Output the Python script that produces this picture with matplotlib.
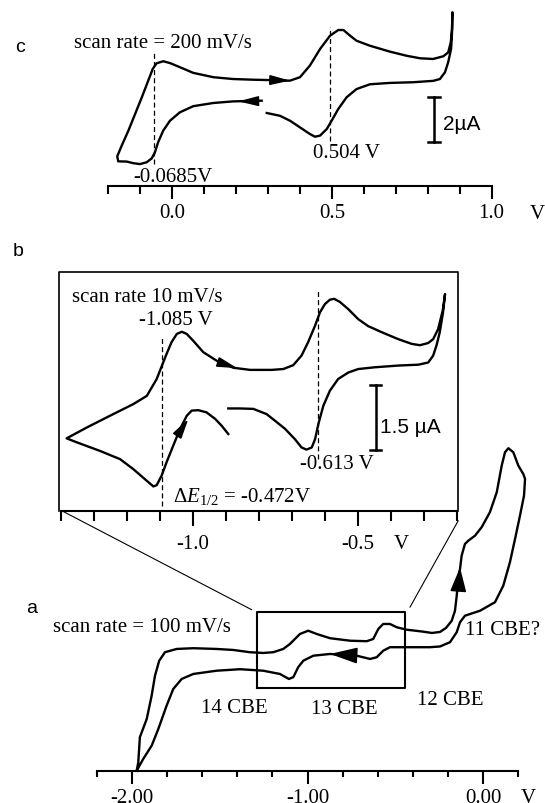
import matplotlib
matplotlib.use("Agg")
import matplotlib.pyplot as plt
from matplotlib.patches import ConnectionPatch

plt.rcParams['font.family'] = ['Liberation Serif', 'DejaVu Serif']
plt.rcParams['mathtext.fontset'] = 'custom'
plt.rcParams['mathtext.rm'] = 'Liberation Serif'
plt.rcParams['mathtext.it'] = 'Liberation Serif:italic'
plt.rcParams['axes.unicode_minus'] = False

SANS = ['Liberation Sans', 'DejaVu Sans']
FS = 15
LW = 1.7

# ---- panel c: scan rate 200 mV/s (potential V, current uA) ----
c_v = [0.280, 0.191, 0.129, 0.066, 0.024, -0.007, -0.028, -0.044, -0.054, -0.064,
       -0.080, -0.101, -0.122, -0.142, -0.169, -0.172, -0.158, -0.137, -0.116, -0.095,
       -0.075, -0.061, -0.049, -0.028, -0.007, 0.024, 0.066, 0.129, 0.191, 0.254,
       0.316, 0.358, 0.369, 0.400, 0.431, 0.463, 0.494, 0.520, 0.536, 0.557,
       0.577, 0.619, 0.682, 0.734, 0.776, 0.817, 0.849, 0.864, 0.872, 0.876,
       0.877, 0.876, 0.873, 0.864, 0.854, 0.838, 0.817, 0.755, 0.682, 0.619,
       0.577, 0.546, 0.520, 0.499, 0.484, 0.463, 0.447, 0.431, 0.400, 0.369,
       0.337, 0.296]
c_i = [3.74, 3.71, 3.64, 3.50, 3.23, 2.86, 2.43, 1.92, 1.48, 1.21,
       1.04, 0.96, 1.00, 1.07, 1.08, 1.30, 1.77, 2.43, 3.16, 3.89,
       4.62, 5.13, 5.38, 5.47, 5.39, 5.21, 4.96, 4.77, 4.69, 4.66,
       4.64, 4.62, 4.62, 4.77, 5.28, 6.01, 6.59, 6.84, 6.84, 6.59,
       6.37, 6.15, 5.89, 5.71, 5.60, 5.57, 5.69, 5.86, 6.30, 6.89,
       7.62, 6.74, 6.01, 5.43, 4.99, 4.69, 4.61, 4.55, 4.52, 4.46,
       4.25, 3.89, 3.38, 2.86, 2.50, 2.21, 2.16, 2.28, 2.57, 2.86,
       3.08, 3.20]
c_dash_v = [-0.057, 0.494]
c_dash_top = [5.93, 6.96]
c_dash_bot = [0.96, 1.99]

# ---- panel b: scan rate 10 mV/s ----
b_v = [-0.892, -0.857, -0.816, -0.776, -0.751, -0.720, -0.690, -0.670, -0.655, -0.639,
       -0.629, -0.619, -0.604, -0.584, -0.559, -0.528, -0.498, -0.448, -0.377, -0.316,
       -0.286, -0.271, -0.261, -0.251, -0.241, -0.235, -0.242, -0.256, -0.271, -0.286,
       -0.311, -0.336, -0.377, -0.427, -0.468, -0.498, -0.528, -0.554, -0.571, -0.584,
       -0.599, -0.614, -0.629, -0.650, -0.670, -0.695, -0.725, -0.761, -0.826, -0.877,
       -0.927, -0.968, -0.998, -1.018, -1.033, -1.048, -1.064, -1.079, -1.091, -1.109,
       -1.139, -1.180, -1.251, -1.321, -1.382, -1.352, -1.281, -1.220, -1.180, -1.139,
       -1.119, -1.109, -1.094, -1.079, -1.059, -1.038, -1.018, -1.003, -0.983, -0.958,
       -0.932, -0.912, -0.892]
b_i = [2.36, 2.36, 2.35, 2.23, 2.08, 1.89, 1.65, 1.46, 1.41, 1.46,
       1.65, 2.00, 2.42, 2.77, 3.04, 3.19, 3.27, 3.31, 3.35, 3.37,
       3.42, 3.58, 3.81, 4.12, 4.58, 5.00, 4.62, 4.19, 3.96, 3.87,
       3.82, 3.85, 3.96, 4.12, 4.26, 4.42, 4.65, 4.82, 4.89, 4.87,
       4.77, 4.58, 4.27, 3.89, 3.58, 3.36, 3.27, 3.25, 3.25, 3.30,
       3.46, 3.66, 3.92, 4.08, 4.13, 4.08, 3.89, 3.62, 3.39, 3.04,
       2.65, 2.46, 2.19, 1.92, 1.67, 1.58, 1.38, 1.19, 0.96, 0.69,
       0.56, 0.59, 0.81, 1.12, 1.50, 1.89, 2.19, 2.31, 2.32, 2.27,
       2.12, 1.96, 1.77]
b_dash_v = [-1.092, -0.619]
b_dash_top = [4.04, 5.08]
b_dash_bot = [0.12, 1.19]
b_box_v = [-1.404, -0.197]
b_box_i = [0.0, 5.52]

# ---- panel a: scan rate 100 mV/s ----
a_v = [-1.972, -1.963, -1.954, -1.915, -1.887, -1.868, -1.844, -1.811, -1.745, -1.650,
       -1.517, -1.423, -1.328, -1.252, -1.195, -1.138, -1.100, -1.043, -0.996, -0.948,
       -0.872, -0.758, -0.663, -0.626, -0.597, -0.569, -0.531, -0.493, -0.436, -0.350,
       -0.292, -0.246, -0.212, -0.180, -0.161, -0.151, -0.142, -0.132, -0.123, -0.104,
       -0.085, -0.047, -0.009, 0.038, 0.077, 0.105, 0.124, 0.143, 0.171, 0.200,
       0.228, 0.238, 0.232, 0.209, 0.181, 0.152, 0.114, 0.067, -0.018, -0.104,
       -0.132, -0.151, -0.189, -0.246, -0.303, -0.398, -0.436, -0.531, -0.569, -0.606,
       -0.644, -0.720, -0.872, -0.967, -1.024, -1.053, -1.081, -1.106, -1.157, -1.252,
       -1.384, -1.517, -1.650, -1.716, -1.764, -1.802, -1.849, -1.887, -1.935, -1.972]
a_i = [0.00, 0.34, 1.34, 2.07, 3.00, 3.80, 4.40, 4.74, 4.87, 4.90,
       4.87, 4.83, 4.74, 4.71, 4.74, 4.87, 5.07, 5.47, 5.60, 5.47,
       5.30, 5.20, 5.18, 5.27, 5.67, 5.87, 5.87, 5.74, 5.64, 5.57,
       5.51, 5.55, 5.71, 5.99, 6.39, 6.99, 7.67, 8.07, 8.60, 9.07,
       9.20, 9.40, 9.74, 10.34, 11.14, 12.20, 12.74, 12.90, 12.74, 12.20,
       11.87, 11.67, 11.00, 10.20, 9.27, 8.34, 7.40, 6.74, 6.40, 6.20,
       5.94, 5.54, 5.14, 4.97, 4.94, 4.94, 4.94, 4.94, 4.80, 4.54,
       4.47, 4.60, 4.67, 4.60, 4.40, 4.14, 3.74, 3.67, 3.87, 4.00,
       4.06, 4.00, 3.87, 3.67, 3.27, 2.60, 1.67, 1.00, 0.47, 0.00]
a_box_v = [-1.286, -0.445]
a_box_i = [3.30, 6.36]
a_labels = ['14 CBE', '13 CBE', '12 CBE']
a_label_v = [-1.417, -0.791, -0.189]
a_label_i = [2.36, 2.31, 2.67]

fig = plt.figure(figsize=(5.45, 8.04), dpi=100)


def make_axes(xlim, ylim, lo, hi, majors, labels, minors, lmaj, lmin, pad):
    ax = fig.add_axes([0, 0, 1, 1])
    ax.set_xlim(xlim)
    ax.set_ylim(ylim)
    ax.patch.set_alpha(0)
    for s in ['left', 'right', 'top']:
        ax.spines[s].set_visible(False)
    ax.spines['bottom'].set_position(('data', 0))
    ax.spines['bottom'].set_bounds(lo, hi)
    ax.spines['bottom'].set_linewidth(1.5)
    ax.set_yticks([])
    ax.set_xticks(majors, labels)
    ax.set_xticks(minors, minor=True)
    ax.tick_params(axis='x', which='major', direction='out', length=lmaj,
                   width=1.5, pad=pad, labelsize=FS)
    ax.tick_params(axis='x', which='minor', direction='out', length=lmin, width=1.5)
    return ax


def arrow(ax, tip, tail, hl, hw):
    ax.annotate('', xy=tip, xytext=tail,
                arrowprops=dict(arrowstyle=f'-|>,head_length={hl},head_width={hw}',
                                color='black', lw=1.2, shrinkA=0, shrinkB=0))


# ---------- panel c ----------
axc = make_axes((-0.539, 1.167), (-27.06, 8.20), -0.2, 1.0,
                [0.0, 0.5, 1.0], ['0.0', '0.5', '1.0'],
                [-0.2 + 0.1 * k for k in range(13)], 9.4, 5.5, 3.0)
axc.plot(c_v, c_i, color='black', lw=LW, solid_joinstyle='round')
for v, t, b in zip(c_dash_v, c_dash_top, c_dash_bot):
    axc.plot([v, v], [b, t], color='black', lw=0.9, ls=(0, (4, 2.5)))
arrow(axc, (0.369, 4.62), (0.32, 4.64), 1.2, 0.3)
arrow(axc, (0.207, 3.71), (0.26, 3.72), 1.2, 0.3)
axc.plot([0.819, 0.819], [1.92, 3.92], color='black', lw=1.8)
axc.plot([0.800, 0.837], [1.92, 1.92], color='black', lw=1.8)
axc.plot([0.800, 0.837], [3.92, 3.92], color='black', lw=1.8)
axc.text(0.848, 2.76, '2µA', family=SANS, fontsize=FS, va='center', ha='left')
axc.text(-0.307, 6.10, 'scan rate = 200 mV/s', fontsize=FS, va='baseline', ha='left')
axc.text(0.003, 0.23, '-0.0685V', fontsize=FS, va='baseline', ha='center')
axc.text(0.547, 1.26, '0.504 V', fontsize=FS, va='baseline', ha='center')
axc.text(1.142, -0.79, 'V', fontsize=FS, va='top', ha='center')
axc.text(-0.476, 6.10, 'c', family=SANS, fontsize=14, va='center', ha='center')

# ---------- panel b ----------
axb = make_axes((-1.584, 0.068), (-6.746, 11.81), -1.4, -0.2,
                [-1.0, -0.5], ['-1.0', '-0.5'],
                [-1.4 + 0.1 * k for k in range(13)], 10.6, 7.0, 6.0)
axb.plot([b_box_v[0], b_box_v[0], b_box_v[1], b_box_v[1]],
         [b_box_i[0], b_box_i[1], b_box_i[1], b_box_i[0]], color='black', lw=1.2)
axb.plot(b_v, b_i, color='black', lw=LW, solid_joinstyle='round')
for v, t, b in zip(b_dash_v, b_dash_top, b_dash_bot):
    axb.plot([v, v], [b, t], color='black', lw=0.9, ls=(0, (4, 2.5)))
arrow(axb, (-0.865, 3.29), (-0.91, 3.40), 1.2, 0.3)
arrow(axb, (-1.013, 2.12), (-1.045, 1.75), 1.2, 0.3)
axb.plot([-0.4445, -0.4445], [1.41, 2.91], color='black', lw=1.8)
axb.plot([-0.463, -0.428], [1.41, 1.41], color='black', lw=1.8)
axb.plot([-0.463, -0.428], [2.91, 2.91], color='black', lw=1.8)
axb.text(-0.432, 1.94, '1.5 µA', family=SANS, fontsize=FS, va='center', ha='left')
axb.text(-1.367, 4.85, 'scan rate 10 mV/s', fontsize=FS, va='baseline', ha='left')
axb.text(-1.052, 4.31, '-1.085 V', fontsize=FS, va='baseline', ha='center')
axb.text(-0.564, 0.98, '-0.613 V', fontsize=FS, va='baseline', ha='center')
axb.text(-1.061, 0.23, r'$\Delta E_{1/2}$ = -0.472V', fontsize=FS, va='baseline', ha='left')
axb.text(-0.367, -0.54, 'V', fontsize=FS, va='top', ha='center')
axb.text(-1.528, 6.00, 'b', family=SANS, fontsize=14, va='center', ha='center')

# ---------- panel a ----------
axa = make_axes((-2.750, 0.3515), (-1.292, 30.87), -2.2, 0.2,
                [-2.0, -1.0, 0.0], ['-2.00', '-1.00', '0.00'],
                [-2.2 + 0.2 * k for k in range(13)], 9.6, 4.5, 2.8)
axa.plot(a_v, a_i, color='black', lw=LW, solid_joinstyle='round')
axa.plot([a_box_v[0], a_box_v[0], a_box_v[1], a_box_v[1], a_box_v[0]],
         [a_box_i[0], a_box_i[1], a_box_i[1], a_box_i[0], a_box_i[0]], color='black', lw=1.5)
arrow(axa, (-0.872, 4.67), (-0.80, 4.64), 1.7, 0.5)
arrow(axa, (-0.132, 8.13), (-0.142, 7.2), 1.5, 0.5)
for lab, v, i in zip(a_labels, a_label_v, a_label_i):
    axa.text(v, i, lab, fontsize=FS, va='baseline', ha='center')
axa.text(-0.104, 5.47, '11 CBE?', fontsize=FS, va='baseline', ha='left')
axa.text(-2.447, 5.6, 'scan rate = 100 mV/s', fontsize=FS, va='baseline', ha='left')
axa.text(0.255, -0.69, 'V', fontsize=FS, va='top', ha='center')
axa.text(-2.570, 6.54, 'a', family=SANS, fontsize=14, va='center', ha='center')

# connectors from the zoomed panel to the box in panel a
for pa, pb in [((-1.397, 0.0), (-1.318, 6.44)), ((-0.195, -0.23), (-0.417, 6.54))]:
    con = ConnectionPatch(xyA=pa, coordsA=axb.transData, xyB=pb, coordsB=axa.transData,
                          color='black', lw=0.8)
    fig.add_artist(con)

fig.savefig('out.png', dpi=100)
